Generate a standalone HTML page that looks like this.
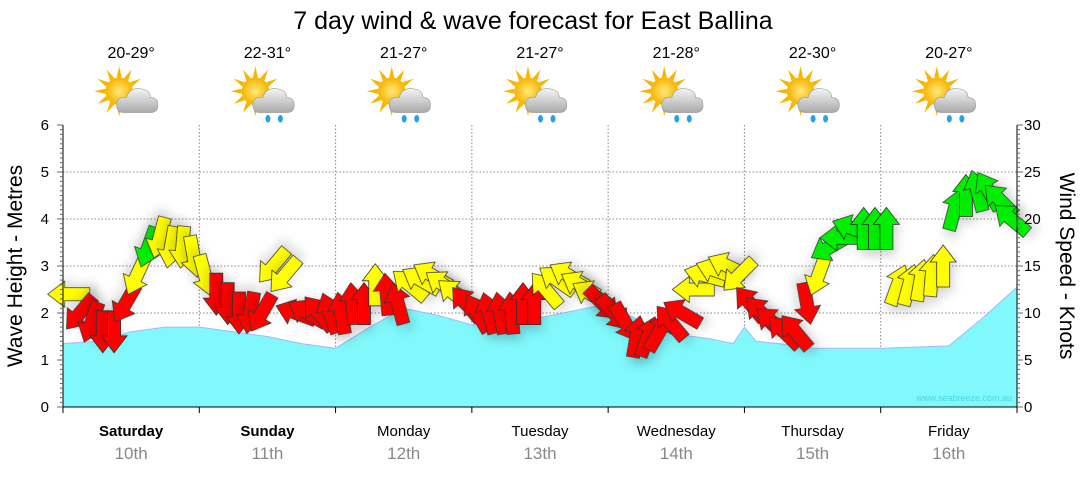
<!DOCTYPE html>
<html><head><meta charset="utf-8"><style>
body{margin:0;background:#fff;width:1080px;height:475px;overflow:hidden;font-family:"Liberation Sans",sans-serif}
</style></head><body>
<svg id="chart" width="1080" height="475" xmlns="http://www.w3.org/2000/svg" font-family="Liberation Sans, sans-serif">
<defs>
<filter id="sh" x="-50%" y="-50%" width="200%" height="200%"><feDropShadow dx="3" dy="6" stdDeviation="5" flood-color="#000" flood-opacity="0.15"/></filter>
<radialGradient id="sun" cx="50%" cy="50%" r="50%"><stop offset="0" stop-color="#ffe97a"/><stop offset="1" stop-color="#f5b400"/></radialGradient>
<linearGradient id="cloud" x1="0" y1="0" x2="0" y2="1"><stop offset="0" stop-color="#f4f4f4"/><stop offset="1" stop-color="#a9a9a9"/></linearGradient>
</defs>
<text x="533" y="29" font-size="25" text-anchor="middle" fill="#000">7 day wind &amp; wave forecast for East Ballina</text>
<g id="grid"></g>
<g id="wave"></g>
<g id="arrows"></g>
<g id="axes"></g>
<g id="days"></g>
<text x="1012" y="401" font-size="9" text-anchor="end" fill="#4fd4e0">www.seabreeze.com.au</text>
<text transform="translate(22,266) rotate(-90)" font-size="21" text-anchor="middle">Wave Height - Metres</text>
<text transform="translate(1060,266) rotate(90)" font-size="21" text-anchor="middle">Wind Speed - Knots</text>
</svg>
<script>
const dayNames=["Saturday","Sunday","Monday","Tuesday","Wednesday","Thursday","Friday"];
const dayDates=["10th","11th","12th","13th","14th","15th","16th"];
const temps=["20-29°","22-31°","21-27°","21-27°","21-28°","22-30°","20-27°"];
const rainIcon=[false,true,true,true,true,true,true];
const waveHours=[0,6,12,18,24,30,36,42,48,54,60,66,72,78,84,90,96,102,108,114,118,120,122,126,132,144,156,162,168];
const waveHeights=[1.35,1.4,1.6,1.7,1.7,1.6,1.5,1.35,1.25,1.7,2.1,1.95,1.75,1.8,1.9,2.05,2.2,1.8,1.55,1.45,1.35,1.7,1.4,1.35,1.25,1.25,1.3,1.9,2.55];
const windSpeeds=[12,10,9,8,8,11,14,17,18,17,17,16,
14,12,11,10,10,10,15,14,10,10,10,10,
10,11,11,13,12,11,13,13.5,14,13,12,11,
10,10,10,10,11,11,12.5,13.5,14,13,12,11,
10,9,7.5,7.5,8,9,10,12.5,14,14.5,15,14,
11,10,9,8,8,11,14,17,18,19,19,19,
19,13,13,13.5,14,15,21,22.5,23,23,22,20];
const windDirs=[90,40,20,0,0,30,25,20,15,10,5,350,
345,0,0,0,10,30,40,40,110,120,140,160,
170,175,180,180,175,165,130,120,120,125,130,140,
150,165,170,175,180,180,140,125,120,120,120,315,
320,330,190,200,210,140,120,90,105,110,115,45,
140,135,130,135,140,350,20,60,90,110,180,180,
180,200,195,190,185,180,195,180,165,150,135,130];
const windColors=["yellow","red","red","red","red","red","yellow","green","yellow","yellow","yellow","yellow",
"yellow","red","red","red","red","red","yellow","yellow","red","red","red","red",
"red","red","red","yellow","red","red","yellow","yellow","yellow","yellow","yellow","red",
"red","red","red","red","red","red","yellow","yellow","yellow","yellow","yellow","red",
"red","red","red","red","red","red","red","yellow","yellow","yellow","yellow","yellow",
"red","red","red","red","red","red","yellow","green","green","green","green","green",
"green","yellow","yellow","yellow","yellow","yellow","green","green","green","green","green","green"];
const windHours=windSpeeds.map((_,i)=>1+2*i);
const yTicksL=[0,1,2,3,4,5,6];
const yTicksR=[0,5,10,15,20,25,30];

const NS="http://www.w3.org/2000/svg";
const X0=63,X1=1017,Y0=407,Y1=125;
const xH=h=>X0+h/168*(X1-X0);
const yM=m=>Y0-m/6*(Y0-Y1);
const yK=k=>Y0-k/30*(Y0-Y1);
function mk(tag,parent,attrs){const e=document.createElementNS(NS,tag);for(const k in attrs)e.setAttribute(k,attrs[k]);parent.appendChild(e);return e;}
const grid=document.getElementById('grid');
for(let d=1;d<7;d++){const l=mk('line',grid,{x1:xH(d*24),x2:xH(d*24),y1:Y1,y2:Y0,stroke:'#888','stroke-dasharray':'1.5,2'});

}
yTicksL.forEach(t=>{if(t>0&&t<6){const l=mk('line',grid,{x1:X0,x2:X1,y1:yM(t),y2:yM(t),stroke:'#888','stroke-dasharray':'1.5,2'});

}});
const wave=document.getElementById('wave');
let d=`M${X0},${Y0}`;waveHours.forEach((h,i)=>{d+=` L${xH(h).toFixed(1)},${yM(waveHeights[i]).toFixed(1)}`;});d+=` L${X1},${Y0} Z`;
const wp=mk('path',wave,{d:d,fill:'#80f8fc',stroke:'#a9b8f4','stroke-width':1});


const ag=document.getElementById('arrows');
const colMap={red:'#ff0000',yellow:'#ffff00',green:'#00ee00'};
windHours.forEach((h,i)=>{
 const cx=xH(h),cy=yK(windSpeeds[i]),rot=windDirs[i]+180;
 const p=mk('path',ag,{d:'M-6.5,21 L-6.5,-4 L-13,-4 L0,-21 L13,-4 L6.5,-4 L6.5,21 Z',transform:`translate(${cx.toFixed(1)},${cy.toFixed(1)}) rotate(${rot})`,fill:colMap[windColors[i]],stroke:'#333','stroke-width':0.8,filter:'url(#sh)'});
 
 
});
const ax=document.getElementById('axes');
mk('line',ax,{x1:X0,x2:X0,y1:Y1,y2:Y0,stroke:'#000'});
mk('line',ax,{x1:X1,x2:X1,y1:Y1,y2:Y0,stroke:'#000'});
mk('line',ax,{x1:X0,x2:X1,y1:Y0,y2:Y0,stroke:'#000'});
for(let m=0;m<=60;m++){const y=Y0-m/60*(Y0-Y1);const len=m%10==0?6:3;
 mk('line',ax,{x1:X0-len,x2:X0,y1:y,y2:y,stroke:'#666'});mk('line',ax,{x1:X1,x2:X1+len,y1:y,y2:y,stroke:'#666'});}
yTicksL.forEach(t=>{const e=mk('text',ax,{x:49,y:yM(t)+5,'font-size':15,'text-anchor':'end'});e.textContent=t;

});
yTicksR.forEach(t=>{const e=mk('text',ax,{x:1024,y:yK(t)+5,'font-size':15});e.textContent=t;

});
for(let d=0;d<=7;d++){mk('line',ax,{x1:xH(d*24),x2:xH(d*24),y1:Y0,y2:Y0+6,stroke:'#000'});}
const dg=document.getElementById('days');
dayNames.forEach((n,i)=>{const cx=xH(i*24+12);
 const a=mk('text',dg,{x:cx,y:436,'font-size':15,'text-anchor':'middle','font-weight':i<2?'bold':'normal'});a.textContent=n;
 
 
 const b=mk('text',dg,{x:cx,y:459,'font-size':17,'text-anchor':'middle',fill:'#888'});b.textContent=dayDates[i];
 
 
 const t=mk('text',dg,{x:cx,y:58,'font-size':16,'text-anchor':'middle'});t.textContent=temps[i];
 
 
 const g=mk('g',dg,{transform:`translate(${cx-2},${95}) scale(1.25)`});
 
 
 for(let k=0;k<12;k++){mk('polygon',g,{points:'-2,-11 0,-20 2,-11',fill:'#f7b500',transform:`translate(-8,-3) rotate(${k*30})`});}
 mk('circle',g,{cx:-8,cy:-3,r:11,fill:'url(#sun)'});
 mk('path',g,{d:'M-4,14 Q-10,14 -10,8 Q-10,1 -2,2 Q0,-6 9,-5 Q17,-4 17,2 Q23,2 23,8 Q23,14 17,14 Z',fill:'url(#cloud)',stroke:'#999','stroke-width':0.5});
 if(rainIcon[i]){[[2,19],[12,19]].forEach(p=>mk('ellipse',g,{cx:p[0],cy:p[1],rx:2,ry:3,fill:'#2aa0e8'}));}
});
</script>
</body></html>
